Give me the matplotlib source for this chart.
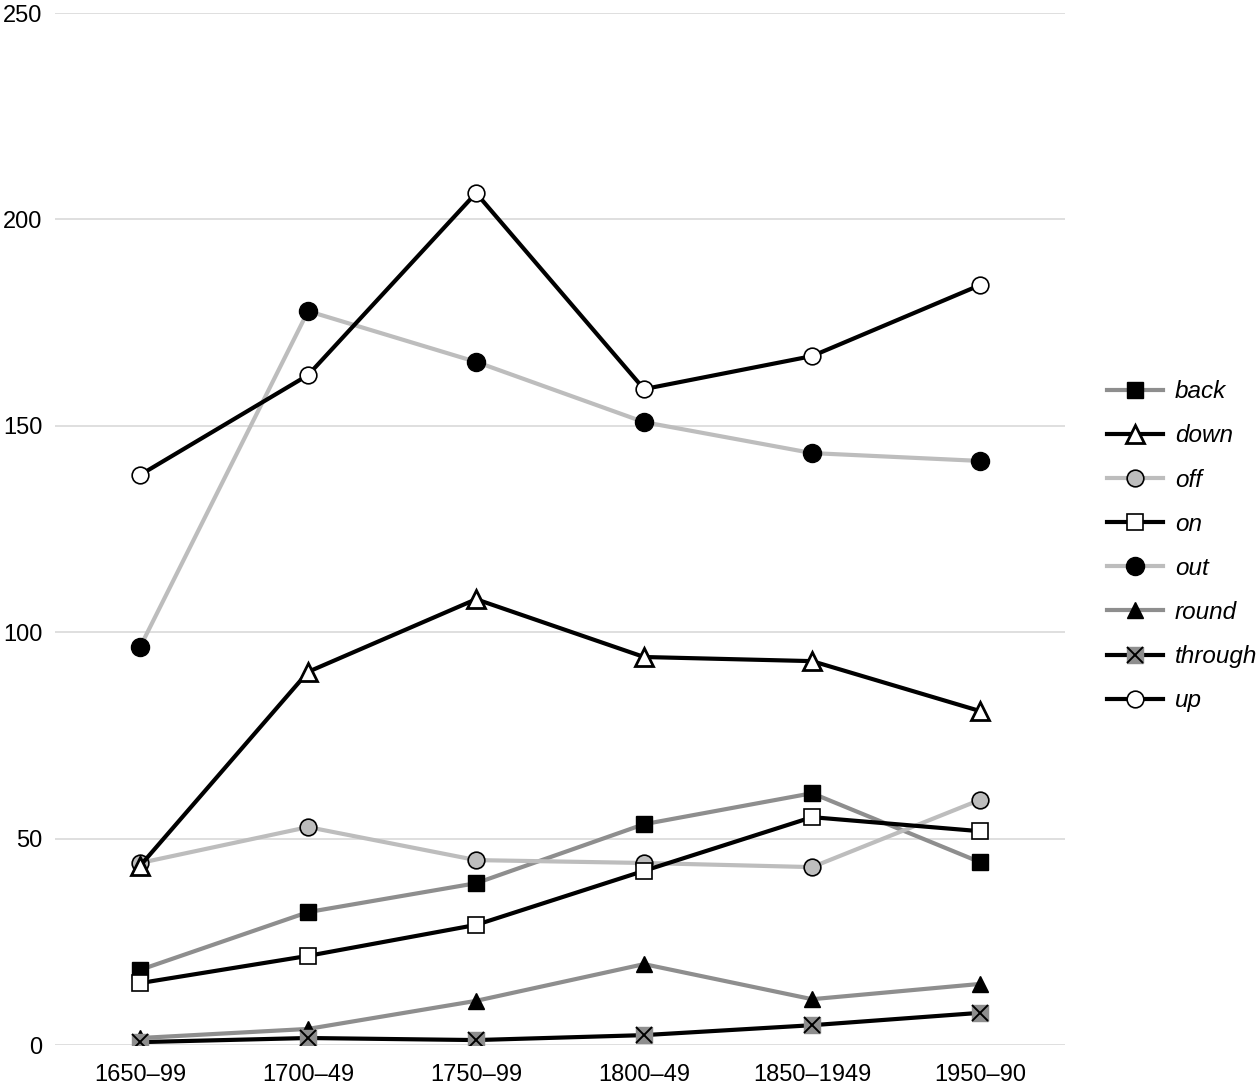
import matplotlib
matplotlib.use("Agg")
import matplotlib.pyplot as plt
from matplotlib.legend_handler import HandlerTuple

plt.rcParams['font.family'] = ['Liberation Sans', 'DejaVu Sans']

periods = ["1650–99", "1700–49", "1750–99", "1800–49", "1850–1949", "1950–90"]
back = [18.2, 32.2, 39.2, 53.5, 61.0, 44.3]
down = [43.4, 90.4, 108.0, 94.0, 93.0, 80.9]
off = [44.1, 52.8, 44.8, 44.1, 43.1, 59.4]
on = [15.0, 21.6, 29.1, 42.2, 55.2, 51.8]
out = [96.4, 177.8, 165.5, 150.9, 143.4, 141.5]
round_ = [1.7, 3.9, 10.7, 19.6, 11.1, 14.8]
through = [0.7, 1.7, 1.2, 2.4, 4.8, 7.8]
up = [138.1, 162.3, 206.4, 158.9, 166.9, 184.1]
yticks = [0, 50, 100, 150, 200, 250]

DARK = "#8e8e8e"
LIGHT = "#bdbdbd"
BLACK = "#000000"
LW = 3.0
MS = 12

fig = plt.figure(figsize=(12.6, 10.88), dpi=100)
ax = fig.add_axes([0.0437, 0.0395, 0.8016, 0.9485])
x = list(range(len(periods)))

h_back, = ax.plot(x, back, color=DARK, lw=LW, marker='s', ms=MS, mfc='black', mec='black', zorder=3)
h_round, = ax.plot(x, round_, color=DARK, lw=LW, marker='^', ms=MS, mfc='black', mec='black', zorder=3)
h_off, = ax.plot(x, off, color=LIGHT, lw=LW, marker='o', ms=MS, mfc='#bdbdbd', mec='black', mew=1.2, zorder=3)
h_out, = ax.plot(x, out, color=LIGHT, lw=LW, marker='o', ms=MS + 1, mfc='black', mec='black', zorder=3)
h_through, = ax.plot(x, through, color=BLACK, lw=LW, marker='s', ms=MS, mfc='#8e8e8e', mec='#8e8e8e', zorder=4)
h_thx, = ax.plot(x, through, color=BLACK, lw=0, marker='x', ms=MS - 1, mew=1.4, mec='black', zorder=5)
h_on, = ax.plot(x, on, color=BLACK, lw=LW, marker='s', ms=MS, mfc='white', mec='black', mew=1.2, zorder=4)
h_down, = ax.plot(x, down, color=BLACK, lw=LW, marker='^', ms=MS + 1, mfc='white', mec='black', mew=2, zorder=4)
h_up, = ax.plot(x, up, color=BLACK, lw=LW, marker='o', ms=MS, mfc='white', mec='black', mew=1.2, zorder=4)

ax.set_xlim(-0.506, 5.506)
ax.set_ylim(0, 250)
ax.set_yticks(yticks)
ax.set_yticklabels([str(v) for v in yticks])
ax.set_xticks(x)
ax.set_xticklabels(periods)
ax.tick_params(axis='both', length=0, labelsize=17, colors='black')
ax.tick_params(axis='y', pad=9)
ax.tick_params(axis='x', pad=14)
ax.grid(axis='y', color='#d9d9d9', lw=1.2)
ax.set_axisbelow(True)
for s in ax.spines.values():
    s.set_visible(False)

handles = [h_back, h_down, h_off, h_on, h_out, h_round, (h_through, h_thx), h_up]
labels = ["back", "down", "off", "on", "out", "round", "through", "up"]
leg = fig.legend(handles, labels, loc='upper left', bbox_to_anchor=(0.8786, 0.6505),
                 frameon=False, fontsize=17.5, handlelength=2.3, handletextpad=0.5,
                 labelspacing=0.87, borderpad=0, borderaxespad=0,
                 handler_map={tuple: HandlerTuple(ndivide=1)})
for t in leg.get_texts():
    t.set_fontstyle('italic')

fig.savefig("out.png", dpi=100)
